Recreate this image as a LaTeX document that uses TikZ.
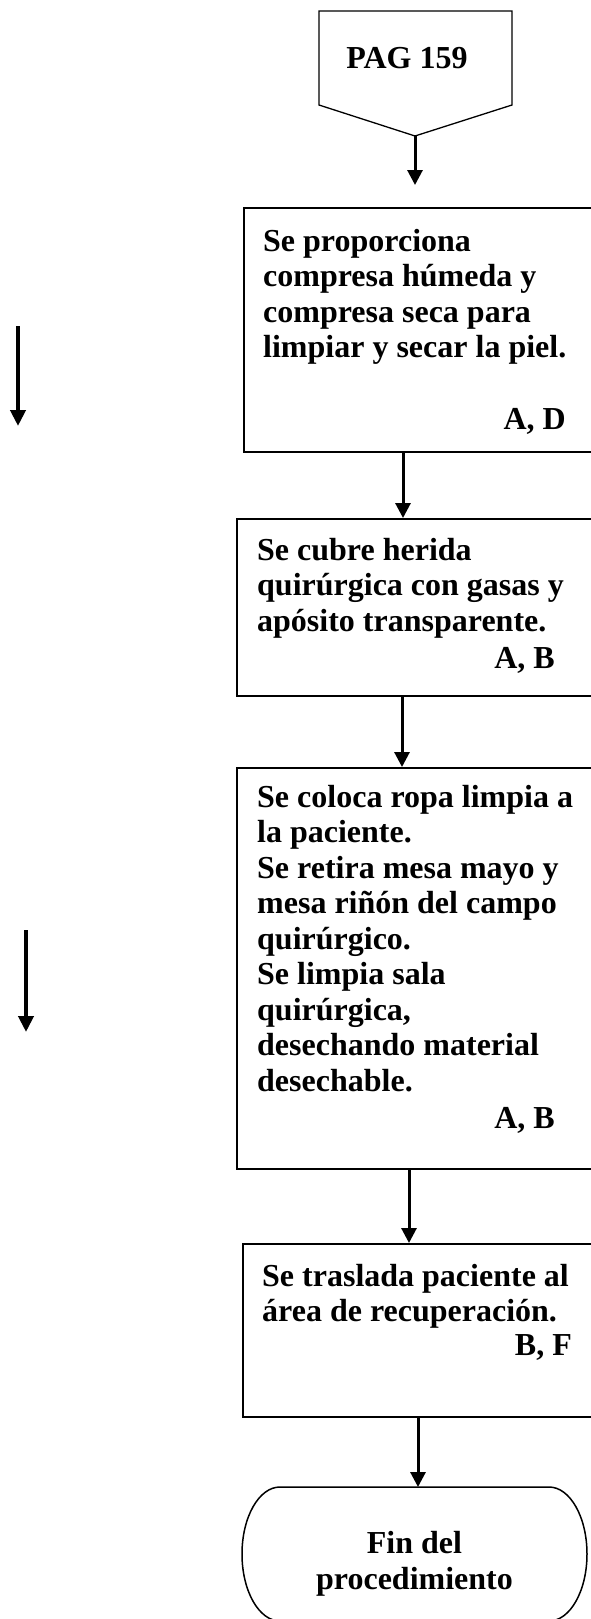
\documentclass[tikz,border=0pt]{standalone}
\usepackage{fontspec}
\setmainfont{Liberation Serif}
\usetikzlibrary{arrows.meta, positioning}

\begin{document}
\begin{tikzpicture}[x=1pt, y=1pt,
    box/.style={draw, line width=1.5pt, anchor=north west, inner sep=0pt},
    txt/.style={font=\fontsize{32}{35.5}\selectfont\bfseries, inner sep=0pt, align=left},
    ref/.style={font=\fontsize{32}{35.5}\selectfont\bfseries, inner sep=0pt, anchor=base east},
    arr/.style={-{Triangle[width=15pt, length=15pt]}, line width=3pt},
    bigarr/.style={-{Triangle[width=15pt, length=16pt]}, line width=4pt}]
    \useasboundingbox (0,0) rectangle (591,-1619);
    \clip (0,0) rectangle (591,-1619);
    % Off-page connector
    \draw[line width=1.3pt] (319,-11) -- (512,-11) -- (512,-105) -- (415,-136) -- (319,-105) -- cycle;
    \coordinate (pagtip) at (415,-136);
    \node[txt, anchor=base] (pag) at (407,-69) {PAG 159};
    % Process boxes
    \node[box, minimum width=360pt, minimum height=244pt] (b1) at (243,-207) {};
    \node[box, minimum width=370pt, minimum height=177pt] (b2) at (236,-518) {};
    \node[box, minimum width=370pt, minimum height=401pt] (b3) at (236,-767) {};
    \node[box, minimum width=360pt, minimum height=173pt] (b4) at (242,-1243) {};
    % texts (base = last line)
    \node[txt, anchor=base west] (t1) at (263,-357.5) {Se proporciona\\compresa húmeda y\\compresa seca para\\limpiar y secar la piel.};
    \node[ref] (r1) at (566,-429) {A, D};
    \node[txt, anchor=base west] (t2) at (257,-631) {Se cubre herida\\quirúrgica con gasas y\\apósito transparente.};
    \node[ref] (r2) at (555,-668) {A, B};
    \node[txt, anchor=base west] (t3) at (257,-1091) {Se coloca ropa limpia a\\la paciente.\\Se retira mesa mayo y\\mesa riñón del campo\\quirúrgico.\\Se limpia sala\\quirúrgica,\\desechando material\\desechable.};
    \node[ref] (r3) at (555,-1128) {A, B};
    \node[txt, anchor=base west] (t4) at (262,-1321.5) {Se traslada paciente al\\área de recuperación.};
    \node[ref] (r4) at (572,-1355) {B, F};
    % Terminal
    \node[minimum width=345pt, minimum height=134pt, inner sep=0pt, outer sep=0pt] (term) at (414.5,-1554) {};
    \draw[line width=1.5pt] ([xshift=38pt]term.north west) -- ([xshift=-38pt]term.north east)
        arc[start angle=90, end angle=-90, x radius=38, y radius=67]
        -- ([xshift=38pt]term.south west)
        arc[start angle=270, end angle=90, x radius=38, y radius=67] -- cycle;
    \node[txt, align=center] (fin) at (414.5,-1564) {Fin del\\procedimiento};
    % Connections
    \draw[arr, shorten >=22pt] (pagtip) -- (pagtip |- b1.north);
    \draw[arr] ([xshift=160pt]b1.south west) coordinate (a1) -- (a1 |- b2.north);
    \draw[arr] ([xshift=166pt]b2.south west) coordinate (a2) -- (a2 |- b3.north);
    \draw[arr] ([xshift=173pt]b3.south west) coordinate (a3) -- (a3 |- b4.north);
    \draw[arr] ([xshift=176pt]b4.south west) coordinate (a4) -- (a4 |- term.north);
    % Loose arrows on the left
    \coordinate (l1a) at (18,-326);
    \coordinate (l1b) at (18,-426);
    \coordinate (l2a) at (26,-930);
    \coordinate (l2b) at (26,-1032);
    \draw[bigarr] (l1a) -- (l1b);
    \draw[bigarr] (l2a) -- (l2b);
\end{tikzpicture}
\end{document}
